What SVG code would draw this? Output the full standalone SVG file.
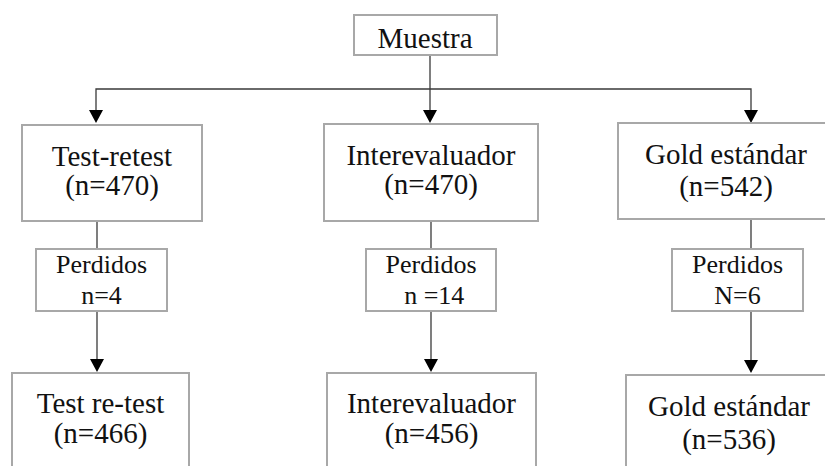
<svg xmlns="http://www.w3.org/2000/svg" width="825" height="466" viewBox="0 0 825 466">
<style>
.box{fill:#fff;stroke:#a8a8a8;stroke-width:2}
.t{font-family:"Liberation Serif","Tinos","DejaVu Serif",serif;font-size:29px;fill:#111;text-anchor:middle}
.s{font-family:"Liberation Serif","Tinos","DejaVu Serif",serif;font-size:26px;fill:#111;text-anchor:middle}
.c{fill:none;stroke:#3a3a3a;stroke-width:1.3}
</style>
<rect width="825" height="466" fill="#fff"/>
<g id="connectors">
<line class="c" x1="430" y1="55" x2="430" y2="110"/>
<polyline class="c" points="96,110 96,89 751,89 751,110"/>
<path d="M89,110 L103,110 L96,123 Z M423,110 L437,110 L430,123 Z M744,110 L758,110 L751,123 Z" fill="#000"/>
<line class="c" x1="97" y1="221" x2="97" y2="249"/>
<line class="c" x1="431" y1="221" x2="431" y2="249"/>
<line class="c" x1="751" y1="219" x2="751" y2="249"/>
<line class="c" x1="97" y1="311" x2="97" y2="360"/>
<line class="c" x1="431" y1="311" x2="431" y2="360"/>
<line class="c" x1="751" y1="311" x2="751" y2="361"/>
<path d="M90,359 L104,359 L97,372 Z M424,359 L438,359 L431,372 Z M744,360 L758,360 L751,373 Z" fill="#000"/>
</g>
<g id="muestra">
<rect class="box" x="354" y="15" width="143" height="40"/>
<text class="t" x="425" y="48">Muestra</text>
</g>
<g id="test-retest">
<rect class="box" x="22" y="125" width="180" height="96"/>
<text class="t" x="112" y="166">Test-retest</text>
<text class="t" x="112" y="195">(n=470)</text>
</g>
<g id="interevaluador">
<rect class="box" x="324" y="124" width="214" height="97"/>
<text class="t" x="431" y="165">Interevaluador</text>
<text class="t" x="431" y="194">(n=470)</text>
</g>
<g id="gold">
<rect class="box" x="618" y="123" width="216" height="96"/>
<text class="t" x="726" y="164">Gold estándar</text>
<text class="t" x="726" y="196">(n=542)</text>
</g>
<g id="perdidos1">
<rect class="box" x="36" y="249" width="131" height="62"/>
<text class="s" x="101.5" y="273">Perdidos</text>
<text class="s" x="101.5" y="304">n=4</text>
</g>
<g id="perdidos2">
<rect class="box" x="366" y="249" width="130" height="62"/>
<text class="s" x="431" y="273">Perdidos</text>
<text class="s" x="431" y="304" xml:space="preserve"> n =14</text>
</g>
<g id="perdidos3">
<rect class="box" x="672" y="249" width="131" height="62"/>
<text class="s" x="737.5" y="273">Perdidos</text>
<text class="s" x="737.5" y="304">N=6</text>
</g>
<g id="test-retest2">
<rect class="box" x="12" y="373" width="177" height="110"/>
<text class="t" x="100.5" y="413">Test re-test</text>
<text class="t" x="100.5" y="443">(n=466)</text>
</g>
<g id="interevaluador2">
<rect class="box" x="327" y="373" width="209" height="110"/>
<text class="t" x="431.5" y="413">Interevaluador</text>
<text class="t" x="431.5" y="443">(n=456)</text>
</g>
<g id="gold2">
<rect class="box" x="626" y="375" width="206" height="110"/>
<text class="t" x="729" y="416">Gold estándar</text>
<text class="t" x="729" y="449">(n=536)</text>
</g>
</svg>
